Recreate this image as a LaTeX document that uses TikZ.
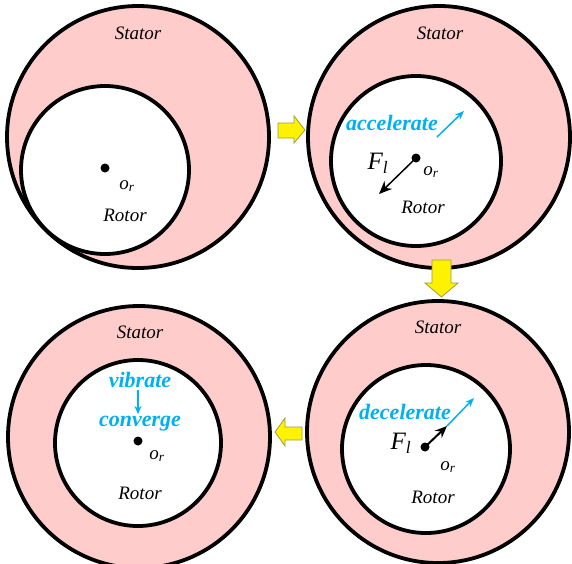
\documentclass[tikz,border=0pt]{standalone}
\usepackage{fontspec}
\setmainfont{Liberation Serif}
\usepackage{xcolor}
\usetikzlibrary{arrows.meta, positioning}
\definecolor{statorpink}{HTML}{FFCCCC}
\definecolor{labelblue}{HTML}{00B0F0}
\definecolor{arrowedge}{HTML}{9C9C3C}

\begin{document}
\begin{tikzpicture}[x=1pt, y=-1pt, >=Stealth,
  stator/.style={fill=statorpink, draw=black, line width=3.8pt},
  rotor/.style={fill=white, draw=black, line width=3.8pt},
  part/.style={font=\fontsize{19}{19}\selectfont\itshape},
  centre/.style={font=\fontsize{19}{19}\selectfont\itshape},
  force/.style={font=\fontsize{25}{25}\selectfont\itshape},
  state/.style={font=\fontsize{22}{22}\selectfont\bfseries\itshape, text=labelblue},
  stage/.style={fill=yellow, draw=arrowedge, line width=0.8pt, line join=miter}]
  \useasboundingbox (0,0) rectangle (572,563);
  \def\rs{131}

  % Panel 1: eccentric rotor
  \draw[stator] (138,137) circle (\rs);
  \draw[rotor] (105,170) circle (84);
  \fill (105,168) circle (4.5);
  \coordinate (c1) at (105,168);
  \node[part] (st1) at (138,33) {Stator};
  \node[centre] (o1) at (127,186) {o\textsubscript{r}};
  \node[part] (ro1) at (125,215) {Rotor};

  % Panel 2: accelerate
  \draw[stator] (439,137) circle (\rs);
  \draw[rotor] (416,161) circle (85);
  \fill (416,158) circle (4.5);
  \coordinate (c2) at (416,158);
  \coordinate (f2) at (379,194);
  \draw[line width=1.5pt, -{Stealth[length=13pt, width=11pt]}] (c2) -- (f2);
  \node[part] (st2) at (440,33) {Stator};
  \node[state] (acc) at (392,123) {accelerate};
  \coordinate (a2s) at (437,137);
  \coordinate (a2e) at (464,111);
  \draw[labelblue, line width=1.5pt, -{Stealth[length=9pt, width=7pt]}] (a2s) -- (a2e);
  \node[force] (fl2) at (378,163) {F\textsubscript{l}};
  \node[centre] (o2) at (431,172) {o\textsubscript{r}};
  \node[part] (ro2) at (423,207) {Rotor};

  % Panel 3: decelerate
  \draw[stator] (438,432) circle (\rs);
  \draw[rotor] (426,449) circle (84);
  \fill (425,447) circle (4.5);
  \coordinate (c3) at (425,447);
  \coordinate (f3) at (447,426);
  \draw[line width=2pt, -{Stealth[length=12pt, width=10pt]}] (c3) -- (f3);
  \node[part] (st3) at (438,327) {Stator};
  \node[state] (dec) at (405,412) {decelerate};
  \coordinate (a3e) at (474,398);
  \draw[labelblue, line width=1.5pt, -{Stealth[length=9pt, width=7pt]}] (f3) -- (a3e);
  \node[force] (fl3) at (401,443) {F\textsubscript{l}};
  \node[centre] (o3) at (448,467) {o\textsubscript{r}};
  \node[part] (ro3) at (433,497) {Rotor};

  % Panel 4: converge
  \draw[stator] (139,437) circle (\rs);
  \draw[rotor] (138,443) circle (83);
  \fill (138,441) circle (4.5);
  \node[part] (st4) at (140,332) {Stator};
  \node[state] (vib) at (140,380) {vibrate};
  \node[state] (con) at (140,424) {converge};
  \coordinate (v4s) at (138,390);
  \coordinate (v4e) at (138,414);
  \draw[labelblue, line width=1.3pt, -{Stealth[length=8pt, width=7pt]}] (v4s) -- (v4e);
  \node[centre] (o4) at (157,456) {o\textsubscript{r}};
  \node[part] (ro4) at (140,493) {Rotor};

  % Stage arrows
  \draw[stage] (278,123) -- (294,123) -- (294,116) -- (305,130) -- (294,143) -- (294,138) -- (278,138) -- cycle;
  \draw[stage] (432,260) -- (451,260) -- (451,283) -- (458,283) -- (441.5,297) -- (425,283) -- (432,283) -- cycle;
  \draw[stage] (302,427) -- (285,427) -- (285,418) -- (275,432) -- (285,446) -- (285,440) -- (302,440) -- cycle;
\end{tikzpicture}
\end{document}
